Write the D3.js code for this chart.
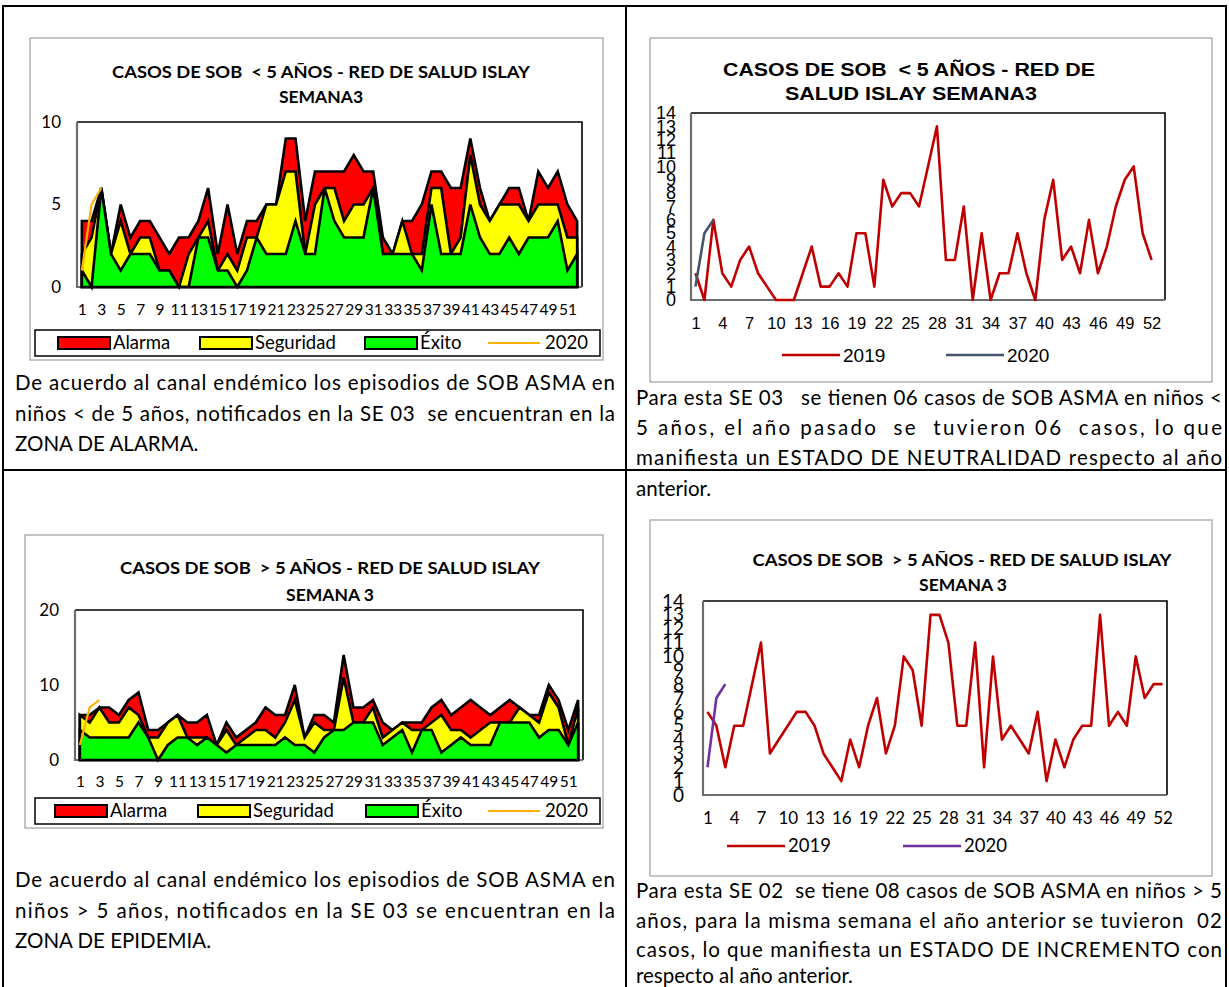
<!DOCTYPE html>
<html>
<head>
<meta charset="utf-8">
<script src="https://cdn.jsdelivr.net/npm/d3@7"></script>
<style>
html, body { margin: 0; background: #fff; }
svg { display: block; }
</style>
</head>
<body>
<script>

// semanas epidemiologicas
var weeks = d3.range(1, 53),
    weeks53 = d3.range(1, 54);

// SOB < 5 años - canal endemico
var menos5Alarma    = [4,4,6,2,5,3,4,4,3,2,3,3,4,6,2,5,2,4,4,5,5,9,9,4,7,7,7,7,8,7,7,3,2,4,4,5,7,7,6,6,9,6,4,5,6,6,4,7,6,7,5,4];
var menos5Seguridad = [2,3,6,2,4,2,3,3,1,1,0,2,3,4,1,2,1,3,3,5,5,7,7,2,5,6,6,4,5,5,6,2,2,4,2,2,6,6,2,3,8,5,4,5,5,5,4,5,5,5,3,3];
var menos5Exito     = [1,0,6,2,1,2,2,2,1,1,0,0,3,3,1,1,0,1,3,2,2,2,4,2,2,6,4,3,3,3,6,2,2,2,2,1,5,2,2,2,5,3,2,2,3,2,3,3,3,4,1,2];
var menos5Casos2020 = [1,5,6];
var menos5Casos2019 = [2,0,6,2,1,3,4,2,1,0,0,0,2,4,1,1,2,1,5,5,1,9,7,8,8,7,10,13,3,3,7,0,5,0,2,2,5,2,0,6,9,3,4,2,6,2,4,7,9,10,5,3];

// SOB > 5 años - canal endemico
var mas5Alarma    = [6,6,7,7,6,8,9,4,4,5,6,5,5,6,2,5,3,4,5,7,6,6,10,3,6,6,5,14,7,7,8,5,4,5,5,5,7,8,6,7,8,7,6,7,8,7,6,6,10,8,4,8];
var mas5Seguridad = [6,5,7,5,5,7,6,3,3,5,6,3,3,3,2,4,2,3,4,4,3,5,8,3,5,4,4,11,5,5,7,3,4,5,4,4,5,6,4,4,3,4,5,5,5,7,6,5,9,7,2,7];
var mas5Exito     = [4,3,3,3,3,3,5,3,0,2,3,3,2,3,2,1,2,2,2,2,2,3,2,2,1,3,4,4,5,5,5,2,3,4,1,4,4,1,2,3,2,2,2,5,5,5,5,3,4,4,2,5];
var mas5Casos2020 = [2,7,8];
var mas5Casos2019 = [6,5,2,5,5,8,11,3,4,5,6,6,5,3,2,1,4,2,5,7,3,5,10,9,5,13,13,11,5,5,11,2,10,4,5,4,3,6,1,4,2,4,5,5,13,5,6,5,10,7,8,8];

var oddWeeks = weeks.filter(function(d) { return d % 2 == 1; }),
    everyThird = weeks.filter(function(d) { return d % 3 == 1; });

var CAL = "Lato, 'Open Sans', sans-serif",
    ARIAL = "'Liberation Sans', Arial, sans-serif";

var svg = d3.select("body").append("svg")
    .attr("width", 1229)
    .attr("height", 987);

// tabla
svg.append("rect")
    .attr("x", 3).attr("y", 6).attr("width", 1223).attr("height", 995)
    .attr("fill", "none").attr("stroke", "#000").attr("stroke-width", 2);
svg.append("line").attr("x1", 626).attr("x2", 626).attr("y1", 6).attr("y2", 987)
    .attr("stroke", "#000").attr("stroke-width", 2);
svg.append("line").attr("x1", 3).attr("x2", 1226).attr("y1", 470).attr("y2", 470)
    .attr("stroke", "#000").attr("stroke-width", 2);

function frame(r) {
  svg.append("rect")
      .attr("x", r[0]).attr("y", r[1])
      .attr("width", r[2] - r[0]).attr("height", r[3] - r[1])
      .attr("fill", "#fff").attr("stroke", "#a6a6a6").attr("stroke-width", 1.3);
}

function titles(lines, font, size) {
  lines.forEach(function(t) {
    var el = svg.append("text")
        .attr("x", t.x).attr("y", t.y).attr("dy", "0.35em")
        .attr("text-anchor", "middle")
        .style("font-family", font).style("font-size", size + "px")
        .style("font-weight", "bold").style("white-space", "pre")
        .text(t.text);
    if (t.w) el.attr("textLength", t.w).attr("lengthAdjust", "spacingAndGlyphs");
  });
}

function plotBox(p) {
  svg.append("path")
      .attr("d", "M" + p[0] + "," + p[1] + "H" + p[2] + "V" + p[3])
      .attr("fill", "none").attr("stroke", "#000").attr("stroke-width", 1.6);
  svg.append("path")
      .attr("d", "M" + p[0] + "," + p[1] + "V" + p[3] + "H" + p[2])
      .attr("fill", "none").attr("stroke", "#6d6d6d").attr("stroke-width", 2.2);
}

function axes(x, y, p, o) {
  var ya = svg.append("g")
      .attr("transform", "translate(" + p[0] + ",0)")
      .call(d3.axisLeft(y).tickValues(o.yticks).tickSize(0).tickPadding(o.ypad));
  var xa = svg.append("g")
      .attr("transform", "translate(0," + p[3] + ")")
      .call(d3.axisBottom(x).tickValues(o.xticks).tickSize(0).tickPadding(o.xpad));
  [ya, xa].forEach(function(a) {
    a.select(".domain").remove();
    a.selectAll("text")
        .attr("fill", "#000")
        .style("font-family", o.font);
  });
  ya.selectAll("text").style("font-size", o.ysize + "px");
  xa.selectAll("text").style("font-size", o.xsize + "px");
}

function parrafo(lines, x, ys, w) {
  lines.forEach(function(t, i) {
    var el = svg.append("text")
        .attr("x", x).attr("y", ys[i])
        .style("font-family", CAL).style("font-size", "20.5px")
        .style("white-space", "pre")
        .text(t);
    if (i < lines.length - 1) el.attr("textLength", w).attr("lengthAdjust", "spacing");
  });
}

function endemico(o) {
  frame(o.frame);
  titles(o.titles, CAL, 17.5);
  var p = o.plot;
  var x = d3.scalePoint().domain(weeks).range([p[0], p[2]]).padding(0.5);
  var y = d3.scaleLinear().domain([0, o.ymax]).range([p[3], p[1]]);

  var area = d3.area()
      .x(function(d, i) { return x(weeks[i]); })
      .y0(y(0))
      .y1(function(d) { return y(d); });

  plotBox(p);

  [[o.alarma, "#ff0000"], [o.seguridad, "#ffff00"], [o.exito, "#00ff00"]].forEach(function(s) {
    svg.append("path")
        .datum(s[0])
        .attr("d", area)
        .attr("fill", s[1])
        .attr("stroke", "#000")
        .attr("stroke-width", 2.6)
        .attr("stroke-linejoin", "miter");
  });

  svg.append("path")
      .datum(o.casos2020)
      .attr("d", d3.line()
          .x(function(d, i) { return x(weeks[i]); })
          .y(function(d) { return y(d); }))
      .attr("fill", "none")
      .attr("stroke", "#ffb000")
      .attr("stroke-width", 2.2);

  axes(x, y, p, {yticks: o.yticks, xticks: oddWeeks, ypad: 16, xpad: o.xpad,
                 font: CAL, ysize: 17, xsize: 15.5});

  // leyenda
  var l = o.legend;
  svg.append("rect")
      .attr("x", 35).attr("y", l.y - 13).attr("width", 565).attr("height", 26)
      .attr("fill", "#fff").attr("stroke", "#000").attr("stroke-width", 1.5);
  var items = [
    {name: "Alarma", color: "#ff0000", x: l.xs[0]},
    {name: "Seguridad", color: "#ffff00", x: l.xs[1]},
    {name: "Éxito", color: "#00ff00", x: l.xs[2]}
  ];
  items.forEach(function(it) {
    svg.append("rect")
        .attr("x", it.x).attr("y", l.y - 6).attr("width", 52).attr("height", 12)
        .attr("fill", it.color).attr("stroke", "#000").attr("stroke-width", 2);
    svg.append("text")
        .attr("x", it.x + 55).attr("y", l.y).attr("dy", "0.35em")
        .style("font-family", CAL).style("font-size", "18.5px")
        .text(it.name);
  });
  svg.append("line")
      .attr("x1", l.xs[3]).attr("x2", l.xs[3] + 52).attr("y1", l.y).attr("y2", l.y)
      .attr("stroke", "#ffb000").attr("stroke-width", 2);
  svg.append("text")
      .attr("x", l.xs[3] + 57).attr("y", l.y).attr("dy", "0.35em")
      .style("font-family", CAL).style("font-size", "18.5px")
      .text("2020");
}

function lineas(o) {
  frame(o.frame);
  titles(o.titles, o.font, o.tsize);
  var p = o.plot;
  var x = d3.scalePoint().domain(o.domain).range([p[0], p[2]]).padding(0.5);
  var y = d3.scaleLinear().domain([0, 14]).range([p[3], p[1]]);
  var line = d3.line()
      .x(function(d, i) { return x(weeks[i]); })
      .y(function(d) { return y(d); });

  plotBox(p);

  svg.append("path")
      .datum(o.s2019)
      .attr("d", line)
      .attr("fill", "none").attr("stroke", "#c00000").attr("stroke-width", 2.6)
      .attr("stroke-linejoin", "round");
  svg.append("path")
      .datum(o.s2020)
      .attr("d", line)
      .attr("fill", "none").attr("stroke", o.c2020).attr("stroke-width", 2.6)
      .attr("stroke-linejoin", "round");

  axes(x, y, p, {yticks: d3.range(0, 15), xticks: everyThird, ypad: o.ypad, xpad: 17,
                 font: o.font, ysize: o.ysize, xsize: o.xsize});

  var l = o.legend;
  [["2019", "#c00000", l.xs[0]], ["2020", o.c2020, l.xs[1]]].forEach(function(s) {
    svg.append("line")
        .attr("x1", s[2]).attr("x2", s[2] + 58).attr("y1", l.y).attr("y2", l.y)
        .attr("stroke", s[1]).attr("stroke-width", 2.6);
    svg.append("text")
        .attr("x", s[2] + 61).attr("y", l.y).attr("dy", "0.35em")
        .style("font-family", o.font).style("font-size", l.size + "px")
        .text(s[0]);
  });
}

// ---- < 5 años ----
endemico({
  frame: [30, 38, 603, 360],
  titles: [{text: "CASOS DE SOB  < 5 AÑOS - RED DE SALUD ISLAY", x: 321, y: 72, w: 418},
           {text: "SEMANA3", x: 321, y: 97}],
  plot: [77, 122, 582, 287],
  ymax: 10, yticks: [0, 5, 10], xpad: 17,
  alarma: menos5Alarma, seguridad: menos5Seguridad, exito: menos5Exito,
  casos2020: menos5Casos2020,
  legend: {y: 343, xs: [58, 200, 365, 488]}
});

lineas({
  frame: [650, 38, 1212, 382],
  titles: [{text: "CASOS DE SOB  < 5 AÑOS - RED DE", x: 909, y: 70, w: 372},
           {text: "SALUD ISLAY SEMANA3", x: 911, y: 94, w: 252}],
  font: ARIAL, tsize: 18,
  plot: [691, 113, 1165, 300],
  domain: weeks53,
  s2019: menos5Casos2019, s2020: menos5Casos2020, c2020: "#44546a",
  ypad: 15, ysize: 18, xsize: 16.5,
  legend: {y: 355, xs: [782, 946], size: 19}
});

parrafo(["De acuerdo al canal endémico los episodios de SOB ASMA en",
         "niños < de 5 años, notificados en la SE 03  se encuentran en la",
         "ZONA DE ALARMA."], 15, [390, 421, 451], 600);

parrafo(["Para esta SE 03   se tienen 06 casos de SOB ASMA en niños <",
         "5 años, el año pasado  se  tuvieron 06  casos, lo que",
         "manifiesta un ESTADO DE NEUTRALIDAD respecto al año",
         "anterior."], 636, [405, 435, 465, 496], 586);

// ---- > 5 años ----
endemico({
  frame: [25, 535, 603, 828],
  titles: [{text: "CASOS DE SOB  > 5 AÑOS - RED DE SALUD ISLAY", x: 330, y: 568, w: 420},
           {text: "SEMANA 3", x: 330, y: 595}],
  plot: [75, 610, 583, 760],
  ymax: 20, yticks: [0, 10, 20], xpad: 16,
  alarma: mas5Alarma, seguridad: mas5Seguridad, exito: mas5Exito,
  casos2020: mas5Casos2020,
  legend: {y: 811, xs: [55, 198, 366, 488]}
});

lineas({
  frame: [650, 520, 1212, 876],
  titles: [{text: "CASOS DE SOB  > 5 AÑOS - RED DE SALUD ISLAY", x: 962, y: 560, w: 419},
           {text: "SEMANA 3", x: 963, y: 585}],
  font: CAL, tsize: 17.5,
  plot: [703, 601, 1167, 795],
  domain: weeks,
  s2019: mas5Casos2019, s2020: mas5Casos2020, c2020: "#7030a0",
  ypad: 19, ysize: 19, xsize: 17,
  legend: {y: 846, xs: [727, 903], size: 18.5}
});

parrafo(["De acuerdo al canal endémico los episodios de SOB ASMA en",
         "niños > 5 años, notificados en la SE 03 se encuentran en la",
         "ZONA DE EPIDEMIA."], 15, [887, 918, 948], 600);

parrafo(["Para esta SE 02  se tiene 08 casos de SOB ASMA en niños > 5",
         "años, para la misma semana el año anterior se tuvieron  02",
         "casos, lo que manifiesta un ESTADO DE INCREMENTO con",
         "respecto al año anterior."], 636, [898, 928, 957, 983], 586);

</script>
</body>
</html>
